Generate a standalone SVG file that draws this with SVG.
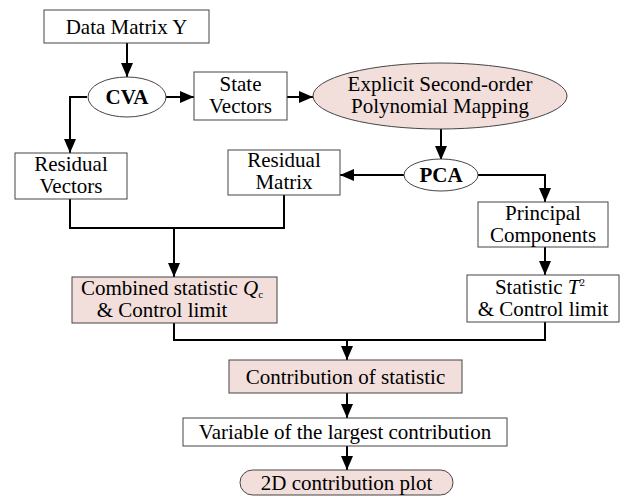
<svg xmlns="http://www.w3.org/2000/svg" width="626" height="497" viewBox="0 0 626 497">
<defs>
<marker id="ah" viewBox="0 0 14 12" refX="14" refY="6" markerWidth="14" markerHeight="12" markerUnits="userSpaceOnUse" orient="auto">
<path d="M0,0 L14,6 L0,12 Z" fill="#000"/>
</marker>
<style>
text{font-family:'Liberation Serif','Times New Roman',serif;font-size:21px;fill:#000;text-anchor:middle}
.b{font-weight:bold}
.box{fill:#fff;stroke:#444;stroke-width:1}
.pink{fill:#f2dfdc;stroke:#444;stroke-width:1}
.c{fill:none;stroke:#000;stroke-width:2}
</style>
</defs>
<rect width="626" height="497" fill="#fff"/>
<g id="connectors">
<path class="c" d="M127,43 V77" marker-end="url(#ah)"/>
<path class="c" d="M166,97 H194" marker-end="url(#ah)"/>
<path class="c" d="M287,97 H313" marker-end="url(#ah)"/>
<path class="c" d="M87,97 H70 V153" marker-end="url(#ah)"/>
<path class="c" d="M441,129 V160" marker-end="url(#ah)"/>
<path class="c" d="M404,175 H340" marker-end="url(#ah)"/>
<path class="c" d="M478,175 H545 V202" marker-end="url(#ah)"/>
<path class="c" d="M70,199 V228 H284 V195"/>
<path class="c" d="M174,228 V277" marker-end="url(#ah)"/>
<path class="c" d="M545,247 V275" marker-end="url(#ah)"/>
<path class="c" d="M174,323 V340 H545 V322"/>
<path class="c" d="M347,340 V360" marker-end="url(#ah)"/>
<path class="c" d="M347,393 V418" marker-end="url(#ah)"/>
<path class="c" d="M347,446 V470" marker-end="url(#ah)"/>
</g>
<g font-family="Liberation Serif, Times New Roman, serif">
<g id="data-matrix">
<rect class="box" x="44" y="10" width="165" height="33"/>
<text x="126.5" y="34">Data Matrix Y</text>
</g>
<g id="cva">
<ellipse class="box" cx="127" cy="97" rx="39" ry="20"/>
<text class="b" x="127" y="104">CVA</text>
</g>
<g id="state-vectors">
<rect class="box" x="194" y="72" width="93" height="48"/>
<text x="240.5" y="90.5">State</text>
<text x="240.5" y="112.5">Vectors</text>
</g>
<g id="mapping">
<ellipse class="pink" cx="440" cy="96" rx="127" ry="33"/>
<text x="440" y="91">Explicit Second-order</text>
<text x="440" y="113">Polynomial Mapping</text>
</g>
<g id="pca">
<ellipse class="box" cx="441" cy="175" rx="37" ry="16"/>
<text class="b" x="441" y="182">PCA</text>
</g>
<g id="residual-vectors">
<rect class="box" x="15" y="153" width="112" height="46"/>
<text x="71" y="171">Residual</text>
<text x="71" y="193">Vectors</text>
</g>
<g id="residual-matrix">
<rect class="box" x="228" y="150" width="112" height="45"/>
<text x="284" y="167">Residual</text>
<text x="284" y="189">Matrix</text>
</g>
<g id="principal-components">
<rect class="box" x="478" y="202" width="130" height="45"/>
<text x="543" y="220">Principal</text>
<text x="543" y="242">Components</text>
</g>
<g id="combined">
<rect class="pink" x="72" y="277" width="205" height="46"/>
<text x="172" y="295">Combined statistic <tspan font-style="italic">Q</tspan><tspan font-size="11" dy="3">c</tspan></text>
<text x="162" y="317">&amp; Control limit</text>
</g>
<g id="statistic-t2">
<rect class="box" x="467" y="275" width="152" height="47"/>
<text x="540" y="294">Statistic <tspan font-style="italic">T</tspan><tspan font-size="11" dy="-8">2</tspan></text>
<text x="543" y="316">&amp; Control limit</text>
</g>
<g id="contribution">
<rect class="pink" x="229" y="360" width="233" height="33"/>
<text x="345.5" y="384">Contribution of statistic</text>
</g>
<g id="variable">
<rect class="box" x="183" y="418" width="324" height="28"/>
<text x="345" y="439">Variable of the largest contribution</text>
</g>
<g id="plot-2d">
<rect class="pink" x="240" y="470" width="213" height="25" rx="12.5" ry="12.5"/>
<text x="346.5" y="490">2D contribution plot</text>
</g>
</g>
</svg>
